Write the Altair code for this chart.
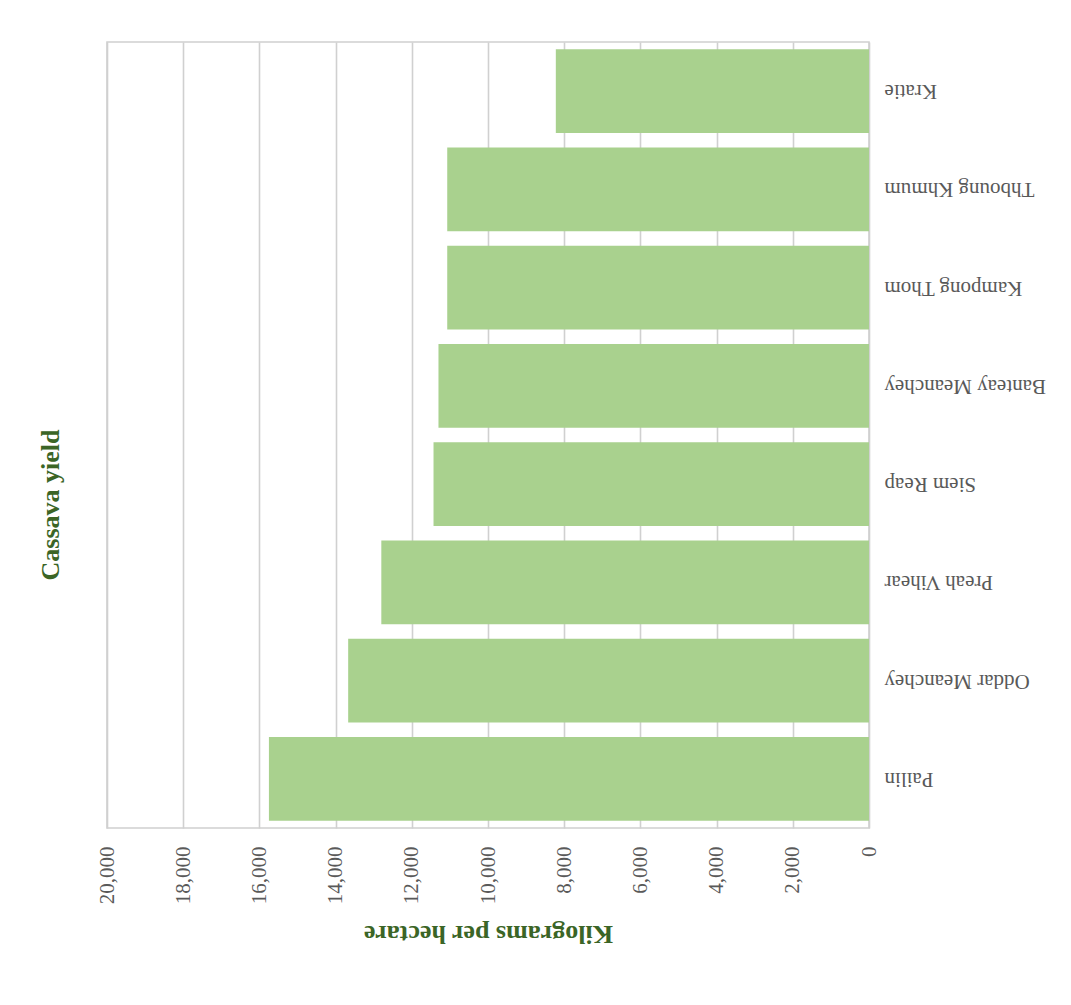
import altair as alt
import pandas as pd

provinces = ["Kratie", "Thboung Khmum", "Kampong Thom", "Banteay Meanchey",
             "Siem Reap", "Preah Vihear", "Oddar Meanchey", "Pailin"]
yields = [8220, 11070, 11070, 11300, 11430, 12800, 13670, 15750]
tick_values = [0, 2000, 4000, 6000, 8000, 10000, 12000, 14000, 16000, 18000, 20000]

df = pd.DataFrame({"province": provinces, "yield": yields})

FONT = "Liberation Serif"
GREEN_TEXT = "#3b6526"
GREY_TEXT = "#595959"
GRID = "#d0d0d0"

chart = alt.Chart(df).mark_bar(color="#a9d18e").encode(
    x=alt.X(
        "yield:Q",
        scale=alt.Scale(domain=[0, 20000], reverse=True, nice=False),
        axis=alt.Axis(
            title="Kilograms per hectare",
            values=tick_values,
            format=",d",
            orient="bottom",
            labelAngle=270,
            labelAlign="right",
            labelBaseline="middle",
            labelPadding=18,
            labelFont=FONT,
            labelFontSize=21,
            labelColor=GREY_TEXT,
            tickSize=0,
            domain=False,
            grid=True,
            gridColor=GRID,
            gridWidth=1.6,
            titleFont=FONT,
            titleFontSize=26,
            titleFontWeight="bold",
            titleColor=GREEN_TEXT,
            titleAngle=180,
            titleAlign="center",
            titleBaseline="middle",
            titleY=105,
        ),
    ),
    y=alt.Y(
        "province:N",
        sort=provinces,
        scale=alt.Scale(paddingInner=0.15, paddingOuter=0.075),
        axis=alt.Axis(
            title=None,
            orient="right",
            labelAngle=180,
            labelAlign="right",
            labelBaseline="middle",
            labelPadding=15,
            labelFont=FONT,
            labelFontSize=21,
            labelColor=GREY_TEXT,
            tickSize=0,
            domain=False,
            grid=False,
        ),
    ),
).properties(
    width=762,
    height=786,
    title=alt.TitleParams(
        "Cassava yield",
        orient="left",
        anchor="middle",
        font=FONT,
        fontSize=26,
        fontWeight="bold",
        color=GREEN_TEXT,
        offset=32,
        dx=-70,
    ),
    autosize=alt.AutoSizeParams(type="none"),
    padding={"left": 99, "top": 34, "right": 190, "bottom": 160},
).configure_view(
    stroke=GRID,
    strokeWidth=1.6,
)

chart.save("out.html", embed_options={"renderer": "svg", "actions": False})
